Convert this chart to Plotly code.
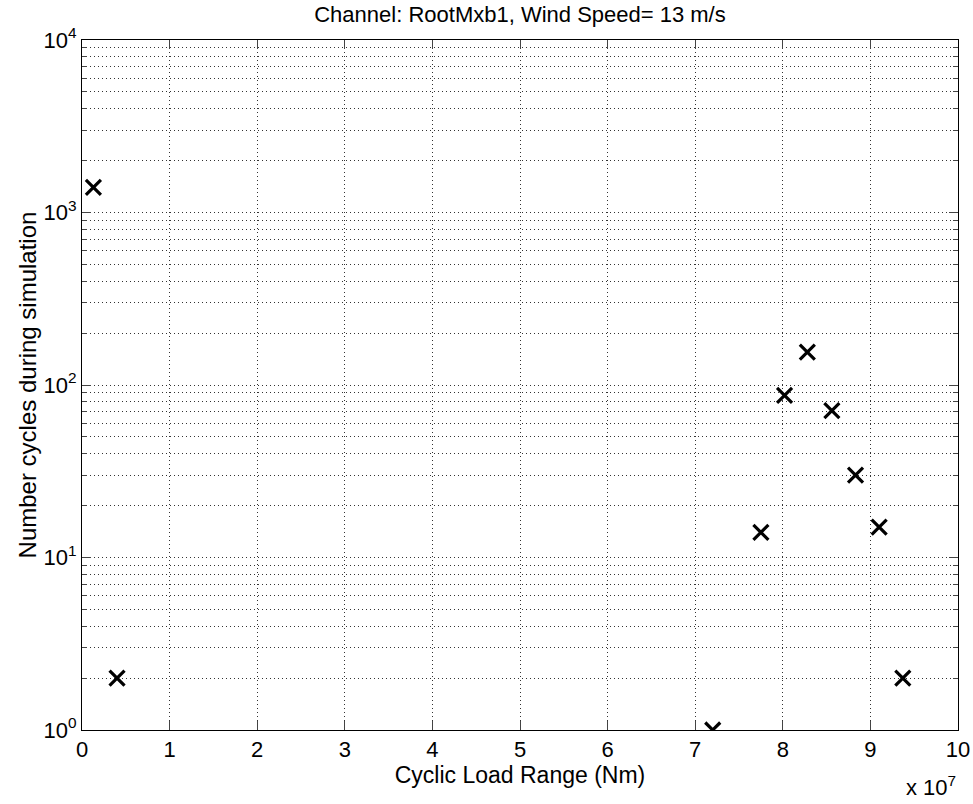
import plotly.graph_objects as go

# Rainflow cycle counts for the blade-root bending moment channel
load_range = [1.3e6, 4.0e6, 7.2e7, 7.75e7, 8.02e7, 8.28e7, 8.56e7, 8.83e7, 9.10e7, 9.37e7]
cycles = [1400, 2, 1, 14, 87, 155, 71, 30, 15, 2]

x_ticks = [i * 1e7 for i in range(11)]
x_tick_text = [str(i) for i in range(11)]
y_ticks = [1, 10, 100, 1000, 10000]
y_tick_text = ["10<sup>%d</sup>" % k for k in range(5)]
y_minor = [m * 10 ** k for k in range(4) for m in range(2, 10)]

font_family = "Liberation Sans, Arial, sans-serif"
grid_dash = "1px,3px"

fig = go.Figure()
fig.add_trace(go.Scatter(
    x=load_range, y=cycles, mode="markers",
    marker=dict(symbol="x-thin", size=15, color="black",
                line=dict(color="black", width=3.2)),
    showlegend=False,
))

fig.update_layout(
    width=973, height=804,
    margin=dict(l=82, r=15, t=40, b=74),
    paper_bgcolor="white", plot_bgcolor="white",
    font=dict(family=font_family, color="black", size=22),
    title=dict(text="Channel: RootMxb1, Wind Speed= 13 m/s",
               x=0.5, xanchor="center", xref="paper",
               y=1 - 14 / 804, yanchor="middle",
               font=dict(size=22, family=font_family)),
)

fig.update_xaxes(
    range=[0, 1e8], tickmode="array", tickvals=x_ticks, ticktext=x_tick_text,
    showline=True, linecolor="black", linewidth=1, mirror="ticks",
    ticks="inside", ticklen=9, tickcolor="#444",
    showgrid=True, gridcolor="#333", griddash=grid_dash, gridwidth=1,
    zeroline=False, tickfont=dict(size=22), automargin=False,
    title=dict(text="Cyclic Load Range (Nm)", font=dict(size=23), standoff=2),
)
fig.update_yaxes(
    type="log", range=[0, 4], tickmode="array", tickvals=y_ticks, ticktext=y_tick_text,
    showline=True, linecolor="black", linewidth=1, mirror="ticks",
    ticks="inside", ticklen=9, tickcolor="#444",
    showgrid=True, gridcolor="#333", griddash=grid_dash, gridwidth=1,
    minor=dict(tickvals=y_minor, ticks="inside", ticklen=5, tickcolor="#444",
               showgrid=True, gridcolor="#333", griddash=grid_dash, gridwidth=1),
    zeroline=False, tickfont=dict(size=22), automargin=False,
    title=dict(text="Number cycles during simulation", font=dict(size=24), standoff=0),
)

fig.add_annotation(
    text="x 10<sup>7</sup>", xref="paper", yref="paper",
    x=1.0, y=0, xanchor="right", yanchor="middle", yshift=-56, xshift=0,
    showarrow=False, font=dict(size=22, family=font_family),
)

fig.write_html("out.html")
